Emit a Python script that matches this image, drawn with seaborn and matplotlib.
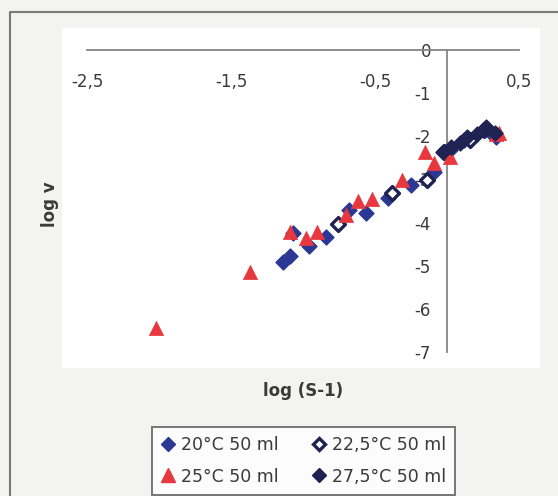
import numpy as np
import pandas as pd
import matplotlib
matplotlib.use("Agg")
import matplotlib.pyplot as plt
import seaborn as sns
from matplotlib.lines import Line2D
from matplotlib.patches import Rectangle

# ---- data (log(S-1), log v) ----
x_20 = [-1.14, -1.09, -1.07, -0.96, -0.84, -0.68, -0.56, -0.41, -0.25, -0.09, 0.02, 0.12, 0.30, 0.34]
y_20 = [-4.91, -4.78, -4.24, -4.54, -4.33, -3.71, -3.78, -3.43, -3.13, -2.83, -2.32, -2.09, -1.90, -2.02]

x_225 = [-0.76, -0.38, -0.14, -0.02, 0.16, 0.26]
y_225 = [-4.03, -3.31, -3.01, -2.36, -2.09, -1.85]

x_25 = [-2.02, -1.37, -1.09, -0.98, -0.90, -0.70, -0.62, -0.52, -0.31, -0.15, -0.09, 0.02, 0.34, 0.36]
y_25 = [-6.44, -5.15, -4.22, -4.36, -4.22, -3.82, -3.50, -3.45, -3.01, -2.36, -2.62, -2.48, -1.95, -1.93]

x_275 = [-0.03, 0.03, 0.09, 0.14, 0.21, 0.27, 0.33]
y_275 = [-2.36, -2.25, -2.16, -2.02, -1.95, -1.78, -1.92]

labels = ["20°C 50 ml", "22,5°C 50 ml", "25°C 50 ml", "27,5°C 50 ml"]
x_ticks = [-2.5, -1.5, -0.5, 0.5]
x_ticklabels = ["-2,5", "-1,5", "-0,5", "0,5"]
y_ticks = [0, -1, -2, -3, -4, -5, -6, -7]

blue = "#2b3894"
navy = "#1f2352"
red = "#e8383f"
grey_text = "#3a3a3a"
spine_c = "#858585"

sns.set_style("white")
plt.rcParams["font.family"] = ["DejaVu Sans"]
plt.rcParams["axes.unicode_minus"] = False

W, H = 558, 496
fig = plt.figure(figsize=(W / 100, H / 100), dpi=100, facecolor="#f3f3f1")

# whiter chart area + outer frame (scan look)
fig.patches.append(Rectangle((62 / W, 1 - 368 / H), 478 / W, 340 / H,
                             transform=fig.transFigure, facecolor="white",
                             edgecolor="none", zorder=-5))
fig.add_artist(Line2D([10 / W, 10 / W, 1.0], [0.0, 1 - 12 / H, 1 - 12 / H],
                      transform=fig.transFigure, color="#7a7a7a", lw=1.5))

ax = fig.add_axes([87 / W, 1 - 352 / H, (519 - 87) / W, (352 - 50) / H])
ax.set_zorder(2)
ax.set_facecolor("none")

df20 = pd.DataFrame({"x": x_20, "y": y_20})
df225 = pd.DataFrame({"x": x_225, "y": y_225})
df25 = pd.DataFrame({"x": x_25, "y": y_25})
df275 = pd.DataFrame({"x": x_275, "y": y_275})

sns.scatterplot(data=df20, x="x", y="y", ax=ax, marker="D", s=58,
                color=blue, edgecolor=blue, linewidth=1, zorder=3, clip_on=False)
sns.scatterplot(data=df225, x="x", y="y", ax=ax, marker="D", s=50,
                color="white", edgecolor=navy, linewidth=2.4, zorder=4, clip_on=False)
sns.scatterplot(data=df25, x="x", y="y", ax=ax, marker="^", s=105,
                color=red, edgecolor=red, linewidth=0.5, zorder=5, clip_on=False)
sns.scatterplot(data=df275, x="x", y="y", ax=ax, marker="D", s=58,
                color=navy, edgecolor=navy, linewidth=1, zorder=6, clip_on=False)

ax.set_xlim(-2.5, 0.5)
ax.set_ylim(-7, 0)
ax.spines["top"].set_visible(False)
ax.spines["right"].set_visible(False)
ax.spines["bottom"].set_position(("data", 0))
ax.spines["left"].set_position(("data", 0))
for s in ["bottom", "left"]:
    ax.spines[s].set_color(spine_c)
    ax.spines[s].set_linewidth(1.3)

ax.set_xticks(x_ticks)
ax.set_xticklabels(x_ticklabels)
ax.set_yticks(y_ticks)
ax.set_yticklabels([str(v) for v in y_ticks])
ax.tick_params(axis="x", direction="out", length=3.6, width=1.2, color=spine_c,
               pad=13, labelsize=12, labelcolor=grey_text)
ax.tick_params(axis="y", direction="out", length=3.6, width=1.2, color=spine_c,
               pad=8, labelsize=12, labelcolor=grey_text)
ax.set_xlabel("")
ax.set_ylabel("")

fig.text(50 / W, 1 - 204 / H, "log v", rotation=90, ha="center", va="center",
         fontsize=12, fontweight="bold", color=grey_text)
fig.text(303 / W, 1 - 391 / H, "log (S-1)", ha="center", va="center",
         fontsize=12, fontweight="bold", color=grey_text)

# legend (column-major order gives the 2x2 layout of the reference)
h20 = Line2D([], [], ls="", marker="D", ms=7, color=blue)
h225 = Line2D([], [], ls="", marker="D", ms=6.5, mfc="white", mec=navy, mew=2.4)
h25 = Line2D([], [], ls="", marker="^", ms=10, color=red)
h275 = Line2D([], [], ls="", marker="D", ms=7, color=navy)
leg = fig.legend([h20, h25, h225, h275],
                 [labels[0], labels[2], labels[1], labels[3]],
                 ncol=2, loc="center", bbox_to_anchor=(303.5 / W, 1 - 461 / H),
                 bbox_transform=fig.transFigure, frameon=True, fancybox=False,
                 fontsize=12.5, handlelength=0.8, handletextpad=0.35,
                 columnspacing=1.9, borderpad=0.55, labelspacing=0.75)
leg.get_frame().set_edgecolor("#555555")
leg.get_frame().set_linewidth(1.4)
leg.get_frame().set_facecolor("white")
for t in leg.get_texts():
    t.set_color(grey_text)

fig.savefig("out.png", dpi=100, facecolor=fig.get_facecolor())
